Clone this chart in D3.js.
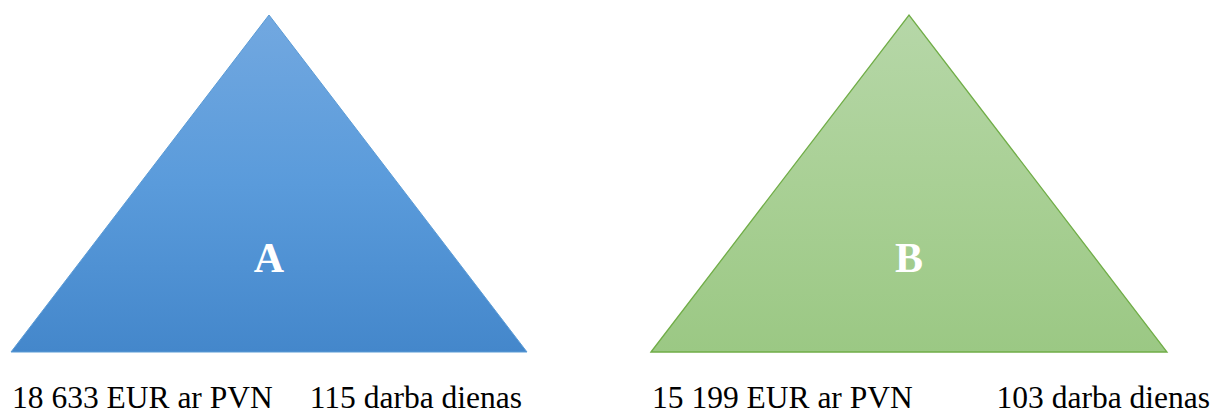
<!DOCTYPE html>
<html>
<head>
<meta charset="utf-8">
<script src="https://cdn.jsdelivr.net/npm/d3@7"></script>
<style>
  html, body { margin: 0; padding: 0; background: #fff; }
  svg { display: block; }
</style>
</head>
<body>
<script>
// data
const options = ['A', 'B'];
const costs = ['18 633 EUR ar PVN', '15 199 EUR ar PVN'];
const days = [115, 103];

const W = 1216, H = 411;
const TOP = 15, BASE = 352;

const themes = {
  A: { stops: ['#72a8e0', '#5a9bdb', '#4487cb'], stroke: '#5b9bd5', sw: 1 },
  B: { stops: ['#b6d7a8', '#a9d095', '#9bc884'], stroke: '#70ad47', sw: 1.3 },
};
// where the "darba dienas" text ends, measured from the band start
const daysEnd = [511, 559];

const svg = d3.select('body').append('svg')
  .attr('width', W)
  .attr('height', H);

const x = d3.scaleBand()
  .domain(options)
  .range([11, 1167])
  .paddingInner(0.19375)
  .paddingOuter(0);

const y = d3.scaleLinear().domain([0, 1]).range([BASE, TOP]);

const defs = svg.append('defs');
options.forEach((k) => {
  const g = defs.append('linearGradient')
    .attr('id', 'grad' + k)
    .attr('x1', 0).attr('y1', 0).attr('x2', 0).attr('y2', 1);
  themes[k].stops.forEach((c, i, arr) => {
    g.append('stop').attr('offset', i / (arr.length - 1)).attr('stop-color', c);
  });
});

const grp = svg.selectAll('g.opt')
  .data(options)
  .join('g')
  .attr('class', 'opt');

grp.append('path')
  .attr('d', (d) => {
    const x0 = x(d), x1 = x0 + x.bandwidth(), xm = x0 + x.bandwidth() / 2;
    return d3.line()([[x0, y(0)], [xm, y(1)], [x1, y(0)]]) + 'Z';
  })
  .attr('fill', (d) => `url(#grad${d})`)
  .attr('stroke', (d) => themes[d].stroke)
  .attr('stroke-width', (d) => themes[d].sw)
  .attr('stroke-linejoin', 'miter');

grp.append('text')
  .attr('x', (d) => x(d) + x.bandwidth() / 2)
  .attr('y', 272)
  .attr('text-anchor', 'middle')
  .attr('font-family', '"Liberation Serif", "Times New Roman", serif')
  .attr('font-weight', 'bold')
  .attr('font-size', 42)
  .attr('fill', '#fff')
  .text((d) => d);

grp.append('text')
  .attr('x', (d) => x(d) + 1)
  .attr('y', 408)
  .attr('font-family', '"Liberation Serif", "Times New Roman", serif')
  .attr('font-size', 31.5)
  .attr('fill', '#000')
  .text((d, i) => costs[i]);

grp.append('text')
  .attr('x', (d, i) => x(d) + daysEnd[i])
  .attr('y', 408)
  .attr('text-anchor', 'end')
  .attr('font-family', '"Liberation Serif", "Times New Roman", serif')
  .attr('font-size', 31.5)
  .attr('fill', '#000')
  .text((d, i) => `${days[i]} darba dienas`);
</script>
</body>
</html>
